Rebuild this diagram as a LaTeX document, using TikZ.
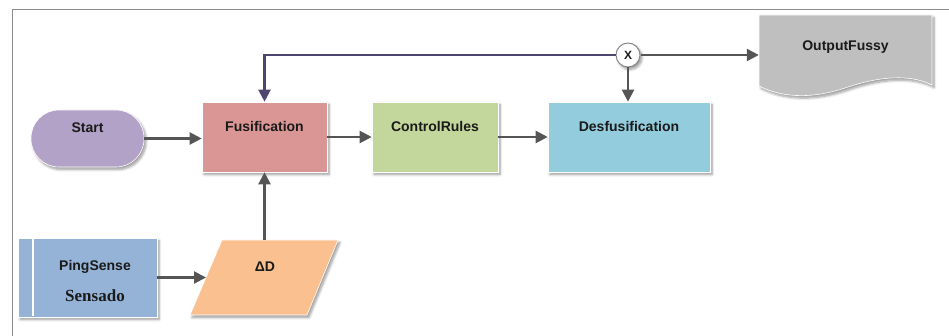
\documentclass[tikz,border=0pt]{standalone}
\usepackage{fontspec}
\setmainfont{Liberation Sans}
\newfontfamily\serifbold{Liberation Serif}
\usetikzlibrary{arrows.meta,shadows.blur,positioning}

\definecolor{startfill}{HTML}{B3A2C7}
\definecolor{fusfill}{HTML}{D99694}
\definecolor{rulefill}{HTML}{C3D69B}
\definecolor{desffill}{HTML}{93CDDD}
\definecolor{outfill}{HTML}{BFBFBF}
\definecolor{pingfill}{HTML}{95B3D7}
\definecolor{deltafill}{HTML}{FAC090}
\definecolor{arrowgrey}{HTML}{555555}
\definecolor{loopcol}{HTML}{4F4670}
\definecolor{framecol}{HTML}{8C8C8C}
\definecolor{txt}{HTML}{1A1A1A}

\tikzset{
  softshadow/.style={blur shadow={shadow xshift=2pt,shadow yshift=-2.5pt,
      shadow blur steps=6,shadow blur radius=2.5pt,shadow opacity=40}},
  labelfont/.style={font=\bfseries\fontsize{14}{16}\selectfont,text=txt},
  block/.style={draw=white,line width=0.6pt,inner sep=0pt,softshadow},
  toplabel/.style={label={[anchor=center,yshift=-25pt,labelfont]north:#1}},
  flow/.style={draw=arrowgrey,line width=2.2pt,
      -{Triangle[length=12pt,width=12pt]}},
  loopflow/.style={draw=loopcol,line width=2.2pt,
      -{Triangle[length=12pt,width=12pt]}},
}

\begin{document}
\begin{tikzpicture}[x=1pt,y=-1pt]
  \useasboundingbox (0,0) rectangle (949,336);

  % page frame (top and left edges)
  \draw[framecol,line width=0.9pt] (12,336) -- (12,9) -- (949,9);

  % main row
  \node[block,fill=startfill,rounded corners=28pt,minimum width=113pt,
        minimum height=57pt,
        label={[anchor=center,yshift=-18pt,labelfont]north:Start}]
        (start) at (87.5,138.5) {};
  \node[block,fill=fusfill,minimum width=125pt,minimum height=70pt,
        toplabel=Fusification] (fus) at (264.5,137) {};
  \node[block,fill=rulefill,minimum width=126pt,minimum height=70pt,
        toplabel=ControlRules] (rules) at (435,137) {};
  \node[block,fill=desffill,minimum width=162pt,minimum height=70pt,
        toplabel=Desfusification] (desf) at (629,137) {};

  % junction
  \node[circle,draw=arrowgrey!70,line width=1pt,fill=white,minimum size=24pt,
        inner sep=0pt,softshadow,font=\bfseries\fontsize{12}{13}\selectfont,
        text=txt] (join) at (628,55) {X};

  % document-shaped output
  \fill[outfill,softshadow,draw=white,line width=0.6pt]
    (759,15) -- (932,15) -- (932,85)
    .. controls (910,74) and (880,76) .. (845,88)
    .. controls (815,98) and (785,99) .. (759,86) -- cycle;
  \node[inner sep=0pt,minimum width=173pt,minimum height=72pt] (out)
        at (845.5,51) {};
  \node[labelfont] (outtext) at (845.5,47) {OutputFussy};

  % sensor input
  \node[block,fill=pingfill,minimum width=139pt,minimum height=79pt]
        (ping) at (87.5,277.5) {};
  \draw[white,line width=1.2pt] (33,238.6) -- (33,316.4);
  \node[labelfont] (pingtext) at (95,267) {PingSense};
  \node[font=\serifbold\bfseries\fontsize{17}{19}\selectfont,text=txt]
        (sensado) at (95,296) {Sensado};

  % data node: parallelogram
  \fill[deltafill,softshadow,draw=white,line width=0.6pt]
    (222,240) -- (338,240) -- (307,315) -- (190,315) -- cycle;
  \node[inner sep=0pt,minimum width=100pt,minimum height=75pt] (delta)
        at (264,277.5) {};
  \coordinate (deltain) at (206,277.5);
  \node[labelfont] (deltatext) at (265,267) {ΔD};

  % connectors
  \draw[flow] (start.east) -- (start.east -| fus.west);
  \draw[flow] (fus.east) -- (rules.west);
  \draw[flow] (rules.east) -- (desf.west);
  \draw[flow] (ping.east) -- (ping.east -| deltain);
  \draw[flow] (delta.north -| fus.south) -- (fus.south);
  \draw[loopflow] (join.west) -| (fus.north);
  \draw[flow] (join.south) -- (join.south |- desf.north);
  \draw[flow] (join.east) -- (join.east -| out.west);
\end{tikzpicture}
\end{document}
